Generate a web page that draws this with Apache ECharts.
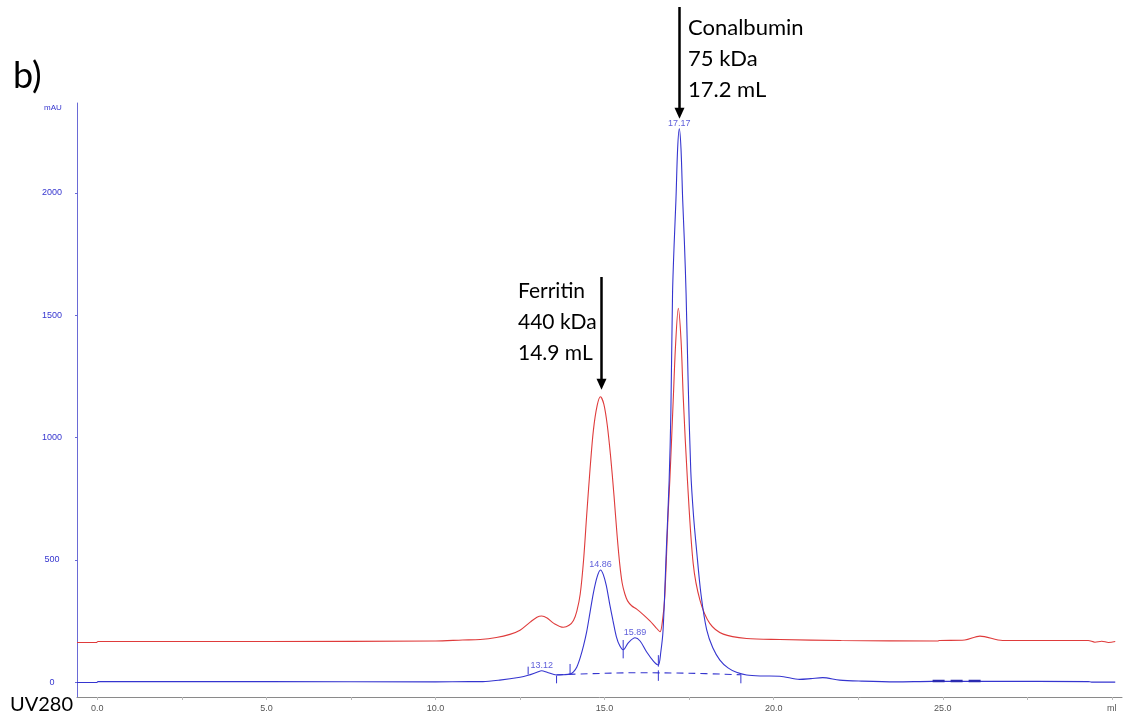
<!DOCTYPE html>
<html>
<head>
<meta charset="utf-8">
<script src="https://cdn.jsdelivr.net/npm/echarts@6/dist/echarts.min.js"></script>
<style>
  html, body { margin: 0; padding: 0; background: #fff; }
  #chart { width: 1129px; height: 717px; }
</style>
</head>
<body>
<div id="chart"></div>
<script>
// UV280 trace (blue), volume in ml and absorbance in mAU
const blueMl = [-0.6, -0.02, 0.02, 5, 10, 11, 11.4, 11.9, 12.5, 12.74, 13.0, 13.14, 13.3, 13.58, 13.8, 13.98, 14.08, 14.18, 14.28, 14.38, 14.47, 14.57, 14.67, 14.78, 14.88, 14.96, 15.05, 15.15, 15.25, 15.35, 15.45, 15.55, 15.7, 15.9, 16.05, 16.24, 16.45, 16.59, 16.66, 16.73, 16.83, 16.91, 16.96, 17.01, 17.06, 17.11, 17.16, 17.21, 17.26, 17.31, 17.36, 17.41, 17.47, 17.55, 17.63, 17.72, 17.85, 18.02, 18.2, 18.41, 18.65, 18.9, 19.2, 19.6, 20.18, 20.77, 21.1, 21.45, 21.95, 22.6, 23.6, 24.7, 26.2, 26.3, 29.3, 29.4, 30.1];
const blueMau = [-2, -2, 2, 2, 1, 2, 2, 8, 20, 28, 40, 46, 40, 29, 30, 33, 42, 62, 100, 150, 205, 285, 365, 430, 458, 440, 395, 320, 250, 185, 148, 132, 160, 181, 168, 124, 85, 70, 120, 213, 553, 826, 1100, 1589, 1800, 1970, 2180, 2262, 2180, 1970, 1800, 1589, 1235, 860, 680, 540, 360, 213, 140, 90, 58, 40, 29, 25, 24, 11, 14, 18, 8, 4, 1, 3, 3, 3, 2, 0, 0];

// second trace (red)
const redMl = [-0.6, -0.02, 0.02, 5, 10, 10.8, 11.32, 11.8, 12.2, 12.5, 12.8, 13.0, 13.14, 13.3, 13.5, 13.78, 13.95, 14.08, 14.18, 14.28, 14.38, 14.47, 14.57, 14.67, 14.78, 14.88, 14.98, 15.08, 15.18, 15.28, 15.37, 15.45, 15.52, 15.6, 15.68, 15.8, 15.95, 16.15, 16.34, 16.5, 16.64, 16.72, 16.78, 16.88, 16.93, 17.03, 17.1, 17.18, 17.26, 17.33, 17.45, 17.62, 17.82, 18.11, 18.51, 19.2, 20.18, 22, 24.85, 24.9, 25.65, 26.1, 26.77, 29.3, 29.5, 29.7, 29.9, 30.1];
const redMau = [162, 162, 166, 166, 168, 172, 174, 182, 195, 212, 245, 265, 270, 262, 240, 224, 232, 252, 290, 360, 500, 680, 870, 1030, 1130, 1166, 1135, 1050, 920, 760, 600, 480, 405, 360, 332, 312, 298, 275, 250, 226, 206, 260, 349, 690, 826, 1153, 1380, 1528, 1400, 1153, 826, 485, 335, 240, 196, 178, 174, 170, 168, 170, 172, 188, 170, 170, 163, 167, 162, 166];

// integration baseline (dashed)
const baseMl = [13.58, 14.5, 16.0, 17.5, 19.03];
const baseMau = [30, 34, 38, 36, 30];

// fraction marks
const fracMl = [24.7, 26.2];
const fracMau = [4, 4];

// peak boundary ticks: [ml, from, to]
const peakTicks = [
  [12.74, 31, 63], [13.58, -5, 26], [13.98, 31, 74], [15.55, 97, 172],
  [16.59, 63, 110], [16.59, 5, 48], [19.03, -5, 31]
];

// peak labels
const peakNames = ['13.12', '14.86', '15.89', '17.17'];
const peakMl = [13.14, 14.88, 15.9, 17.21];
const peakMau = [46, 458, 181, 2262];

const xTicks = [0, 5, 10, 15, 20, 25, 30];
const yTicks = [0, 500, 1000, 1500, 2000];

const blue = '#3535cf';
const red = '#df3b3b';
const annFont = 'Lato, "Open Sans", sans-serif';
const tickFont = '"Liberation Sans", Arial, sans-serif';

const zip = (a, b) => a.map((v, i) => [v, b[i]]);

const chart = echarts.init(document.getElementById('chart'));

const option = {
  backgroundColor: '#fff',
  animation: false,
  grid: { left: 77, right: 7, top: 103, bottom: 20, containLabel: false, outerBoundsMode: 'none' },
  xAxis: {
    type: 'value',
    min: -0.6,
    max: 30.3,
    axisLine: { onZero: false, lineStyle: { color: '#8a8a8a', width: 1 } },
    axisTick: {
      show: true,
      customValues: [0, 2.5, 5, 7.5, 10, 12.5, 15, 17.5, 20, 22.5, 25, 27.5, 30],
      length: 3,
      lineStyle: { color: '#bbb' }
    },
    axisLabel: {
      customValues: xTicks,
      margin: 7,
      color: '#555',
      fontSize: 9,
      fontFamily: tickFont,
      formatter: v => (v === 30 ? 'ml' : v.toFixed(1))
    },
    splitLine: { show: false }
  },
  yAxis: {
    type: 'value',
    min: -61,
    max: 2367,
    axisLine: { show: true, onZero: false, lineStyle: { color: '#6a6ad6', width: 1 } },
    axisTick: { show: true, customValues: yTicks, length: 2, lineStyle: { color: '#6a6ad6' } },
    axisLabel: {
      customValues: yTicks,
      margin: 25,
      align: 'center',
      color: blue,
      fontSize: 9,
      fontFamily: tickFont,
      formatter: v => String(v)
    },
    splitLine: { show: false }
  },
  series: [
    {
      name: 'red',
      type: 'line',
      data: zip(redMl, redMau),
      showSymbol: false,
      smooth: 0.3,
      lineStyle: { color: red, width: 1.1 },
      z: 2
    },
    {
      name: 'UV280',
      type: 'line',
      data: zip(blueMl, blueMau),
      showSymbol: false,
      smooth: 0.3,
      lineStyle: { color: blue, width: 1.1 },
      z: 3
    },
    {
      name: 'baseline',
      type: 'line',
      data: zip(baseMl, baseMau),
      showSymbol: false,
      smooth: 0.4,
      lineStyle: { color: blue, width: 1.1, type: [7, 5] },
      z: 3
    },
    {
      name: 'fractions',
      type: 'line',
      data: zip(fracMl, fracMau),
      showSymbol: false,
      lineStyle: { color: '#2a2ab0', width: 2.5, type: [12, 6] },
      z: 3
    },
    {
      name: 'ticks',
      type: 'custom',
      data: peakTicks,
      renderItem: (params, api) => {
        const a = api.coord([api.value(0), api.value(1)]);
        const b = api.coord([api.value(0), api.value(2)]);
        return {
          type: 'line',
          shape: { x1: a[0], y1: a[1], x2: b[0], y2: b[1] },
          style: { stroke: blue, lineWidth: 1 }
        };
      },
      z: 4
    },
    {
      name: 'peaks',
      type: 'scatter',
      data: peakMl.map((v, i) => ({ value: [v, peakMau[i]], name: peakNames[i] })),
      symbolSize: 0,
      label: {
        show: true,
        position: 'top',
        distance: 1,
        formatter: p => p.name,
        color: blue,
        fontSize: 9,
        fontFamily: tickFont
      },
      z: 5
    }
  ]
};

chart.setOption(option);

// arrows pointing at the two standards
const arrowMl = [14.88, 17.21];
const arrowTipMau = [1166, 2262];
const arrowTopPx = [277, 7];
const arrowGapPx = [7, 10];

const graphics = [
  { type: 'text', left: 13, top: 58, style: { text: 'b)', fontSize: 36, fontFamily: annFont, fill: '#000' } },
  { type: 'text', left: 10, top: 695, style: { text: 'UV280', fontSize: 20, fontFamily: annFont, fill: '#000' } },
  { type: 'text', left: 44, top: 104, style: { text: 'mAU', fontSize: 8, fontFamily: tickFont, fill: blue } },
  { type: 'text', left: 518, top: 276, style: { text: 'Ferritin\n440 kDa\n14.9 mL', fontSize: 21, lineHeight: 31, fontFamily: annFont, fill: '#000' } },
  { type: 'text', left: 688, top: 12, style: { text: 'Conalbumin\n75 kDa\n17.2 mL', fontSize: 22, lineHeight: 31, fontFamily: annFont, fill: '#000' } }
];

arrowMl.forEach((ml, i) => {
  const p = chart.convertToPixel({ gridIndex: 0 }, [ml, arrowTipMau[i]]);
  const x = Math.round(p[0]) + 0.5;
  const tip = p[1] - arrowGapPx[i];
  graphics.push({
    type: 'line',
    shape: { x1: x, y1: arrowTopPx[i], x2: x, y2: tip - 8 },
    style: { stroke: '#000', lineWidth: 2.5 }
  });
  graphics.push({
    type: 'polygon',
    shape: { points: [[x - 5, tip - 11], [x + 5, tip - 11], [x, tip]] },
    style: { fill: '#000' }
  });
});

chart.setOption({ graphic: graphics });
</script>
</body>
</html>
